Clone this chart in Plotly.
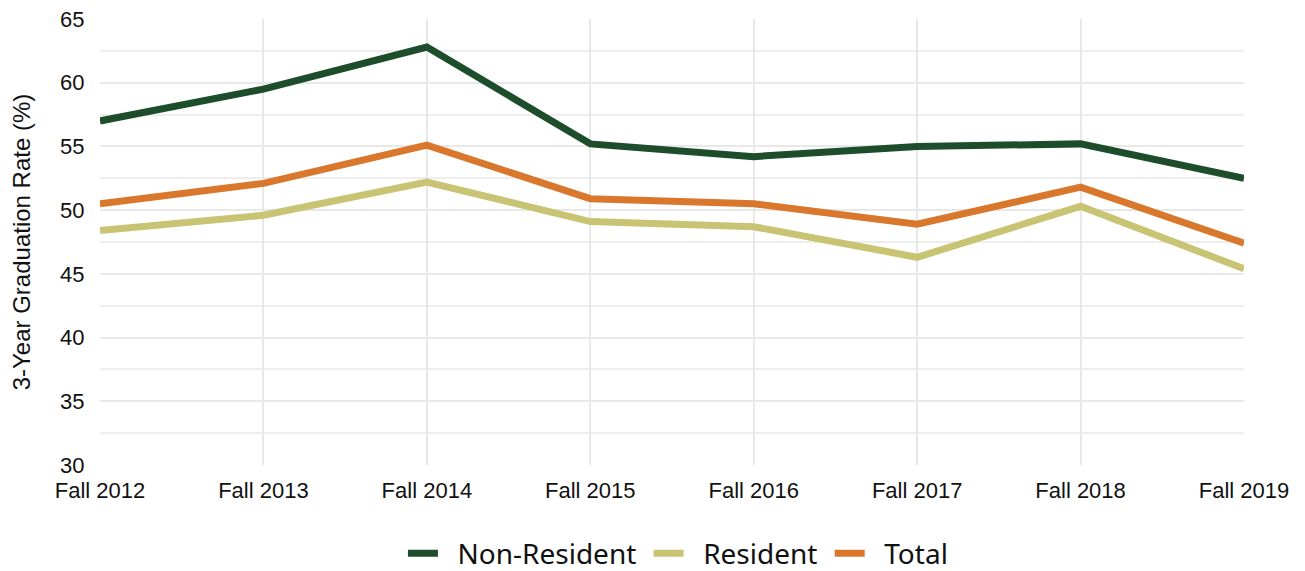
import plotly.graph_objects as go

categories = ["Fall 2012", "Fall 2013", "Fall 2014", "Fall 2015", "Fall 2016", "Fall 2017", "Fall 2018", "Fall 2019"]
non_resident = [57.0, 59.5, 62.8, 55.2, 54.2, 55.0, 55.2, 52.5]
resident = [48.4, 49.6, 52.2, 49.1, 48.7, 46.3, 50.3, 45.4]
total = [50.5, 52.1, 55.1, 50.9, 50.5, 48.9, 51.8, 47.4]

series = [
    ("Non-Resident", non_resident, "#1e4d2b"),
    ("Resident", resident, "#c8c474"),
    ("Total", total, "#d9782d"),
]

NB = "\u00a0"
fig = go.Figure()
for name, vals, color in series:
    fig.add_trace(go.Scatter(x=categories, y=vals, name=NB * 2 + name + NB, mode="lines",
                             line=dict(color=color, width=7)))

fig.update_layout(
    width=1297, height=563,
    margin=dict(l=92, r=61, t=11, b=106),
    paper_bgcolor="white", plot_bgcolor="white",
    font=dict(family="Liberation Sans, Arial, sans-serif", color="#111111", size=22),
    legend=dict(orientation="h", xref="container", x=0.3045, xanchor="left",
                yref="container", y=0.031, yanchor="middle",
                font=dict(family="Noto Sans, sans-serif", size=28, color="#111111"),
                itemwidth=30, tracegroupgap=0),
    showlegend=True,
)
fig.update_xaxes(
    range=[0, 7], showgrid=True, gridcolor="#e8e8e8", gridwidth=2,
    showline=False, zeroline=False, ticks="outside", ticklen=6,
    tickcolor="rgba(0,0,0,0)", tickfont=dict(size=22), tickangle=0,
    ticklabeloverflow="allow", automargin=False,
)
fig.update_yaxes(
    range=[30, 65], tick0=30, dtick=5, showgrid=True, gridcolor="#e8e8e8", gridwidth=2,
    minor=dict(dtick=2.5, showgrid=True, gridcolor="#eeeeee", gridwidth=1.5),
    zeroline=False, showline=False, ticks="outside", ticklen=10,
    tickcolor="rgba(0,0,0,0)", tickfont=dict(size=22), ticklabeloverflow="allow",
    automargin=False,
    title=dict(text="3-Year Graduation Rate (%)", font=dict(size=24), standoff=26),
)

fig.write_html("out.html")
